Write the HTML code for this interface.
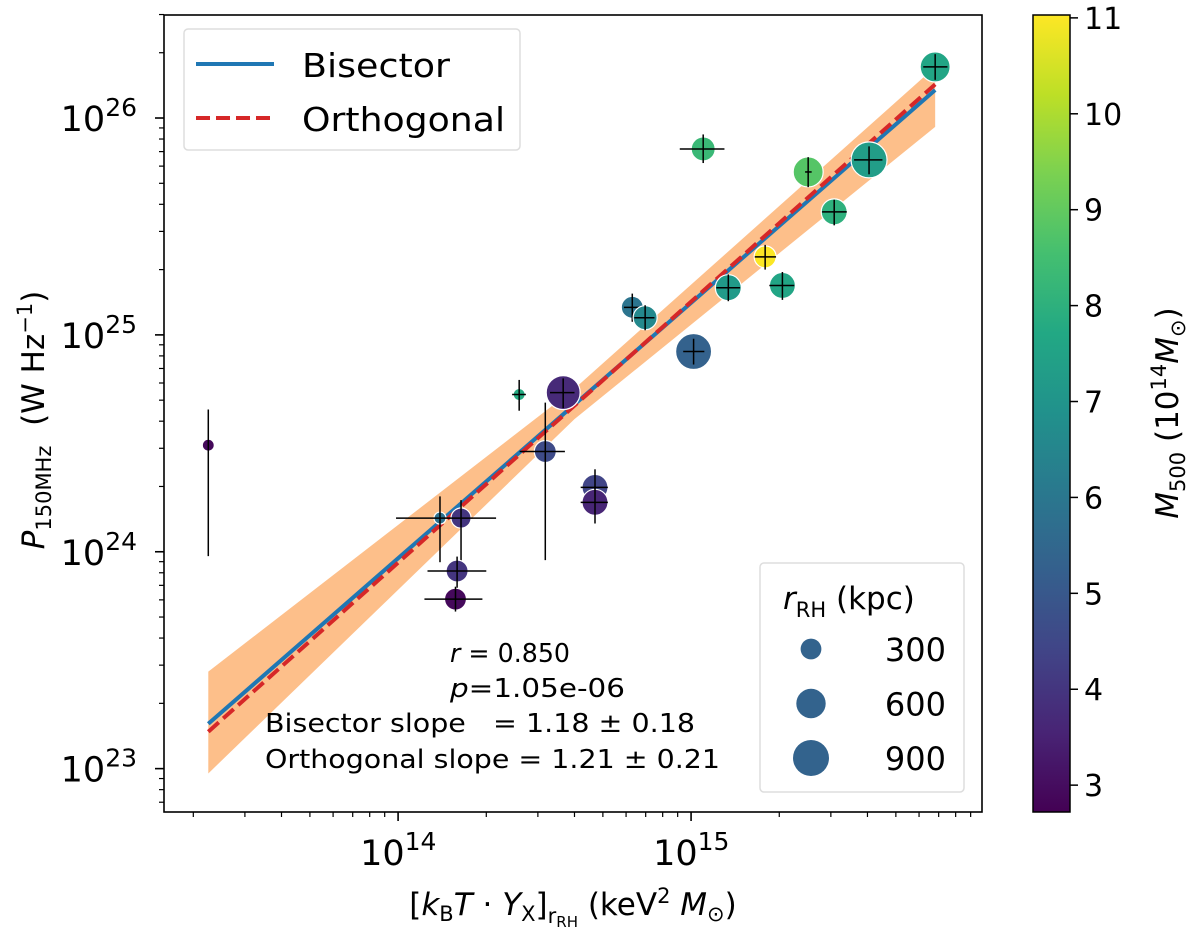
<!DOCTYPE html>
<html><head><meta charset="utf-8"><style>
body{margin:0;background:#fff;}
svg text{font-family:"DejaVu Sans","Liberation Sans",sans-serif;fill:#000;white-space:pre;}
</style></head><body>
<svg id="chart" width="1200" height="932" viewBox="0 0 1200 932" xmlns="http://www.w3.org/2000/svg">
<defs>
<linearGradient id="vir" x1="0" y1="1" x2="0" y2="0">
<stop offset="0" stop-color="#440154"/><stop offset="0.1" stop-color="#482475"/><stop offset="0.2" stop-color="#414487"/><stop offset="0.3" stop-color="#355f8d"/><stop offset="0.4" stop-color="#2a788e"/><stop offset="0.5" stop-color="#21918c"/><stop offset="0.6" stop-color="#22a884"/><stop offset="0.7" stop-color="#44bf70"/><stop offset="0.8" stop-color="#7ad151"/><stop offset="0.9" stop-color="#bddf26"/><stop offset="1" stop-color="#fde725"/>
</linearGradient>
<clipPath id="pc"><rect x="164" y="15" width="818" height="797"/></clipPath>
</defs>
<g id="band" clip-path="url(#pc)"></g>
<g id="lines" clip-path="url(#pc)"></g>
<g id="pts"></g>
<rect x="164" y="15" width="818" height="797" fill="none" stroke="#000" stroke-width="1.6"/>
<g id="axes"></g>
<g>
<rect x="184" y="29" width="336" height="121" rx="4" fill="#fff" fill-opacity="0.8" stroke="#ddd" stroke-width="1.5"/>
<line x1="196" y1="64" x2="274" y2="64" stroke="#1f77b4" stroke-width="4"/>
<text x="302" y="77" font-size="33" textLength="148" lengthAdjust="spacingAndGlyphs">Bisector</text>
<line x1="196" y1="118" x2="274" y2="118" stroke="#d62728" stroke-width="4" stroke-dasharray="14,6"/>
<text x="302" y="131" font-size="33" textLength="203" lengthAdjust="spacingAndGlyphs">Orthogonal</text>
</g>
<g font-size="26">
<text x="450" y="662" textLength="120" lengthAdjust="spacingAndGlyphs"><tspan font-style="italic">r</tspan> = 0.850</text>
<text x="450" y="697" textLength="175" lengthAdjust="spacingAndGlyphs"><tspan font-style="italic">p</tspan>=1.05e-06</text>
<text x="265" y="732" textLength="430" lengthAdjust="spacingAndGlyphs">Bisector slope   = 1.18 ± 0.18</text>
<text x="265" y="768" textLength="455" lengthAdjust="spacingAndGlyphs">Orthogonal slope = 1.21 ± 0.21</text>
</g>
<g>
<rect x="760" y="563" width="204" height="229" rx="4" fill="#fff" fill-opacity="0.8" stroke="#ddd" stroke-width="1.5"/>
<text x="783" y="609" font-size="31"><tspan font-style="italic">r</tspan><tspan font-size="21" dy="8">RH</tspan><tspan dy="-8"> (kpc)</tspan></text>
<g id="sizeleg"></g>
</g>
<text x="573" y="915" font-size="31" text-anchor="middle">[<tspan font-style="italic">k</tspan><tspan font-size="21" dy="6">B</tspan><tspan dy="-6" font-style="italic">T</tspan> · <tspan font-style="italic">Y</tspan><tspan font-size="21" dy="6">X</tspan><tspan dy="-6">]</tspan><tspan font-size="21" dy="8">r</tspan><tspan font-size="15" dy="4">RH</tspan><tspan dy="-12"> (keV</tspan><tspan font-size="21" dy="-12">2</tspan><tspan dy="12"> </tspan><tspan font-style="italic">M</tspan><tspan font-size="21" dy="6">⊙</tspan><tspan dy="-6">)</tspan></text>
<text transform="translate(44,420) rotate(-90)" font-size="31" text-anchor="middle"><tspan font-style="italic">P</tspan><tspan font-size="21" dy="7">150MHz</tspan><tspan dy="-7">  (W Hz</tspan><tspan font-size="21" dy="-12">−1</tspan><tspan dy="12">)</tspan></text>
<rect x="1033" y="15" width="37" height="797" fill="url(#vir)" stroke="#000" stroke-width="1.5"/>
<g id="cbticks"></g>
<text transform="translate(1178,413) rotate(-90)" font-size="31" text-anchor="middle"><tspan font-style="italic">M</tspan><tspan font-size="21" dy="7">500</tspan><tspan dy="-7"> (10</tspan><tspan font-size="21" dy="-12">14</tspan><tspan dy="12" font-style="italic">M</tspan><tspan font-size="21" dy="7">⊙</tspan><tspan dy="-7">)</tspan></text>
</svg>
<script>
// data: x in units of 1e14 keV^2 Msun, y in units of 1e24 W/Hz
const xv  =[0.225,1.39,1.64,1.59,1.57,3.18,4.70,4.70,2.59,3.66,6.30,6.97,10.2,11.0,13.4,17.9,20.5,25.1,30.8,40.5,68.1];
const yv  =[3.10,1.43,1.43,0.815,0.605,2.90,1.98,1.69,5.31,5.42,13.4,12.0,8.38,72,16.5,22.9,16.9,56.4,36.9,64.1,172];
const xlo =[0.225,0.984,1.50,1.26,1.23,2.6,4.2,4.2,2.45,3.3,5.9,6.4,9.4,9.15,12.2,16.5,18.5,24.5,28,36,62];
const xhi =[0.225,2.16,1.79,2.0,1.94,3.71,5.2,5.2,2.73,4.0,6.7,7.5,11.1,13,14.7,19.5,22.5,25.8,34,45,75];
const ylo =[0.955,0.895,0.87,0.66,0.53,0.915,1.65,1.35,4.47,4.6,11.5,10.5,7.3,62,14.3,20,14.5,48,32,55,150];
const yhi =[4.53,1.80,1.73,0.95,0.69,4.87,2.4,2.0,6.2,6.3,15.5,13.7,9.6,84,19,26,19.5,66,42,74,197];
const mass=[2.9,5.8,4.0,4.0,2.9,4.6,4.4,3.6,7.8,3.7,5.9,6.6,5.3,8.3,7.2,11.0,7.6,8.8,8.0,7.3,7.6];
const rrh =[100,100,280,336,336,336,470,470,100,800,336,400,900,400,470,336,470,625,470,900,625];
const fitX=[0.225,68.1];
const bisY=[0.161,134.6];
const ortY=[0.148,143];
const bandX=[0.225,4.0,68.1];
const bandUp=[0.28,5.65,172];
const bandLo=[0.095,4.09,91];
const xTicks=[1,10]; const xTickLabels=["14","15"];
const yTicks=[0.1,1,10,100]; const yTickLabels=["23","24","25","26"];
const cbTicks=[3,4,5,6,7,8,9,10,11];
const sizeLegend=[300,600,900];
const cmin=2.72,cmax=11.03;

const L=164,R=982,T=15,B=812;
const lx0=-0.799,lx1=1.993, ly0=22.80-24, ly1=26.475-24;
function X(v){return L+(Math.log10(v)-lx0)/(lx1-lx0)*(R-L);}
function Y(v){return B-(Math.log10(v)-ly0)/(ly1-ly0)*(B-T);}
function CB(v){return B-(v-cmin)/(cmax-cmin)*(B-T);}
function rad(r){return 0.6*Math.sqrt(r);}
const vstops=["#440154","#482475","#414487","#355f8d","#2a788e","#21918c","#22a884","#44bf70","#7ad151","#bddf26","#fde725"];
function hex(h){return [1,3,5].map(i=>parseInt(h.substr(i,2),16));}
function vir(v){let t=Math.max(0,Math.min(1,(v-cmin)/(cmax-cmin)))*10;let i=Math.min(9,Math.floor(t)),f=t-i;
 const a=hex(vstops[i]),b=hex(vstops[i+1]);return "rgb("+a.map((c,k)=>Math.round(c+(b[k]-c)*f)).join(",")+")";}
const NS="http://www.w3.org/2000/svg";
function mk(tag,attrs,parent){const e=document.createElementNS(NS,tag);for(const k in attrs)e.setAttribute(k,attrs[k]);parent.appendChild(e);return e;}

let pts=bandX.map((x,i)=>X(x)+","+Y(bandUp[i]));
for(let i=bandX.length-1;i>=0;i--)pts.push(X(bandX[i])+","+Y(bandLo[i]));
const bd=mk("polygon",{points:pts.join(" "),fill:"#fdbf8a"},document.getElementById("band"));


const lg=document.getElementById("lines");
const bl=mk("line",{x1:X(fitX[0]),y1:Y(bisY[0]),x2:X(fitX[1]),y2:Y(bisY[1]),stroke:"#1f77b4","stroke-width":4},lg);


const ol=mk("line",{x1:X(fitX[0]),y1:Y(ortY[0]),x2:X(fitX[1]),y2:Y(ortY[1]),stroke:"#d62728","stroke-width":4,"stroke-dasharray":"14,6"},lg);



const pg=document.getElementById("pts");
xv.forEach((x,i)=>{
 const g=mk("g",{},pg);
 
 
 mk("circle",{cx:X(x),cy:Y(yv[i]),r:rad(rrh[i]),fill:vir(mass[i]),stroke:"#fff","stroke-width":1.2},g);
 mk("line",{x1:X(xlo[i]),y1:Y(yv[i]),x2:X(xhi[i]),y2:Y(yv[i]),stroke:"#000","stroke-width":1.5},g);
 mk("line",{x1:X(x),y1:Y(ylo[i]),x2:X(x),y2:Y(yhi[i]),stroke:"#000","stroke-width":1.5},g);
});

const ax=document.getElementById("axes");
for(let d=-1;d<=1;d++)for(let m=1;m<10;m++){const v=m*Math.pow(10,d);const px=X(v);if(px<L-0.5||px>R+0.5)continue;
 mk("line",{x1:px,y1:B,x2:px,y2:B+(m==1?9:5),stroke:"#000","stroke-width":m==1?1.6:1.2},ax);}
for(let d=-2;d<=2;d++)for(let m=1;m<10;m++){const v=m*Math.pow(10,d);const py=Y(v);if(py<T-0.5||py>B+0.5)continue;
 mk("line",{x1:L,y1:py,x2:L-(m==1?9:5),y2:py,stroke:"#000","stroke-width":m==1?1.6:1.2},ax);}
xTicks.forEach((v,i)=>{const t=mk("text",{x:X(v)-38,y:865,"font-size":35},ax);
 
 
 t.innerHTML='10<tspan font-size="25" dy="-15">'+xTickLabels[i]+'</tspan>';});
yTicks.forEach((v,i)=>{const t=mk("text",{x:137,y:Y(v)+13,"font-size":35,"text-anchor":"end"},ax);
 
 
 t.innerHTML='10<tspan font-size="25" dy="-15">'+yTickLabels[i]+'</tspan>';});
const cg=document.getElementById("cbticks");
cbTicks.forEach(v=>{const py=CB(v);
 mk("line",{x1:1070,y1:py,x2:1078,y2:py,stroke:"#000","stroke-width":1.5},cg);
 const t=mk("text",{x:1084,y:py+11,"font-size":30},cg);
 
 
 t.textContent=v;});
const sl=document.getElementById("sizeleg");
sizeLegend.forEach((s,i)=>{const cy=649+i*54.5;
 const c=mk("circle",{cx:811,cy:cy,r:rad(s),fill:"#33638d"},sl);
 
 
 const t=mk("text",{x:946,y:cy+12,"font-size":32,"text-anchor":"end"},sl);
 
 
 t.textContent=s;});
</script>
</body></html>
